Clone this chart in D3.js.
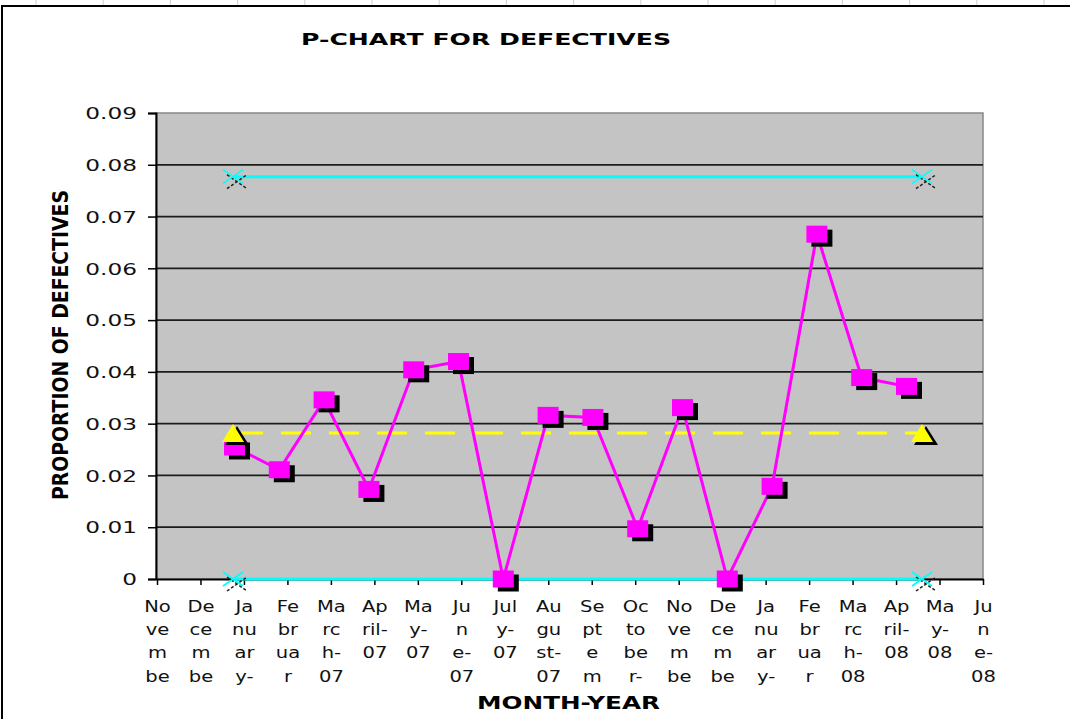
<!DOCTYPE html>
<html>
<head>
<meta charset="utf-8">
<script src="https://cdn.jsdelivr.net/npm/d3@7"></script>
<style>
  body { margin: 0; background: #fff; }
  svg { display: block; }
</style>
</head>
<body>
<svg id="chart"></svg>
<script>
// categories on the axis
var categories = ["November-06","December-06","January-07","February-07","March-07","April-07",
  "May-07","June-07","July-07","August-07","September-07","October-07","November-07",
  "December-07","January-08","February-08","March-08","April-08","May-08","June-08"];

// axis labels as they are wrapped in the picture
var tickLines = [
  ["No","ve","m","be"], ["De","ce","m","be"], ["Ja","nu","ar","y-"], ["Fe","br","ua","r"],
  ["Ma","rc","h-","07"], ["Ap","ril-","07"], ["Ma","y-","07"], ["Ju","n","e-","07"],
  ["Jul","y-","07"], ["Au","gu","st-","07"], ["Se","pt","e","m"], ["Oc","to","be","r-"],
  ["No","ve","m","be"], ["De","ce","m","be"], ["Ja","nu","ar","y-"], ["Fe","br","ua","r"],
  ["Ma","rc","h-","08"], ["Ap","ril-","08"], ["Ma","y-","08"], ["Ju","n","e-","08"]
];

// proportion defective per month
var months = ["January-07","February-07","March-07","April-07","May-07","June-07","July-07",
  "August-07","September-07","October-07","November-07","December-07","January-08",
  "February-08","March-08","April-08"];
var pValues = [0.0255,0.0211,0.0346,0.0173,0.0404,0.0420,0,0.0316,0.0312,0.0097,0.0331,0,
  0.0179,0.0666,0.0389,0.0372];

// control limits (two end points each)
var limitMonths = ["January-07","May-08"];
var ucl = [0.0777,0.0777];
var cl = [0.0282,0.0282];
var lcl = [0,0];

var yTicks = [0,0.01,0.02,0.03,0.04,0.05,0.06,0.07,0.08,0.09];

var W = 1070, H = 719;
var plotLeft = 156, plotRight = 983, plotTop = 113, plotBottom = 579;

var svg = d3.select("#chart").attr("width", W).attr("height", H);
svg.append("rect").attr("width", W).attr("height", H).attr("fill", "#fff");

// worksheet column marks above the chart
svg.append("g").selectAll("line")
  .data(d3.range(36, W, 67.2))
  .enter().append("line")
  .attr("x1", d => d).attr("x2", d => d).attr("y1", 0).attr("y2", 5)
  .attr("stroke", "#d0d0d0").attr("stroke-width", 1);

// chart area frame
svg.append("path")
  .attr("d", `M2,${H} L2,6 L${W},6`)
  .attr("fill", "none").attr("stroke", "#000").attr("stroke-width", 2);

var x = d3.scalePoint().domain(categories).range([plotLeft + 1, plotRight]);
var xp = d3.scalePoint().domain(months).range([234.5, 906.5]);
var xl = d3.scalePoint().domain(limitMonths).range([233, 922]);
var y = d3.scaleLinear().domain([0, 0.09]).range([plotBottom, plotTop]);

function stretch(sel, k) {
  sel.each(function() {
    var w = this.getComputedTextLength();
    d3.select(this).attr("textLength", w * k).attr("lengthAdjust", "spacingAndGlyphs");
  });
}

// plot area
svg.append("rect")
  .attr("x", plotLeft).attr("y", plotTop)
  .attr("width", plotRight - plotLeft).attr("height", plotBottom - plotTop)
  .attr("fill", "#c4c4c4").attr("stroke", "#888").attr("stroke-width", 1.5);

svg.append("g").selectAll("line")
  .data(yTicks.filter(d => d > 0 && d < 0.09))
  .enter().append("line")
  .attr("x1", plotLeft).attr("x2", plotRight)
  .attr("y1", d => y(d)).attr("y2", d => y(d))
  .attr("stroke", "#1c1c1c").attr("stroke-width", 1.8);

// axes
var yAxis = svg.append("g")
  .attr("transform", `translate(${plotLeft},0)`)
  .call(d3.axisLeft(y).tickValues(yTicks).tickSize(8).tickPadding(11)
    .tickFormat(d => d === 0 ? "0" : d3.format(".2f")(d)));
yAxis.select(".domain").attr("stroke", "#000").attr("stroke-width", 2);
yAxis.selectAll(".tick line").attr("stroke", "#000").attr("stroke-width", 1.5);
yAxis.selectAll(".tick text")
  .attr("font-family", "'DejaVu Sans', Verdana, sans-serif")
  .attr("font-size", 16).attr("fill", "#111").attr("dy", "0.36em");
stretch(yAxis.selectAll(".tick text"), 1.45);

var xAxis = svg.append("g")
  .attr("transform", `translate(0,${plotBottom})`)
  .call(d3.axisBottom(x).tickSize(6).tickSizeOuter(0).tickFormat(""));
xAxis.select(".domain").attr("stroke", "#000").attr("stroke-width", 2);
xAxis.selectAll(".tick line").attr("stroke", "#000").attr("stroke-width", 1.5);
xAxis.selectAll(".tick").each(function(d, i) {
  var t = d3.select(this).selectAll("text.lbl")
    .data(tickLines[i])
    .enter().append("text")
    .attr("class", "lbl")
    .attr("text-anchor", "middle")
    .attr("y", (s, j) => 33 + j * 23.2)
    .attr("font-family", "'DejaVu Sans', Verdana, sans-serif")
    .attr("font-size", 16).attr("fill", "#111")
    .text(s => s);
  stretch(t, 1.22);
});

// titles
svg.append("text")
  .attr("x", 486).attr("y", 45)
  .attr("text-anchor", "middle")
  .attr("font-family", "'DejaVu Sans', Verdana, sans-serif")
  .attr("font-weight", "bold").attr("font-size", 16)
  .attr("textLength", 370).attr("lengthAdjust", "spacingAndGlyphs")
  .text("P-CHART FOR DEFECTIVES");

svg.append("text")
  .attr("transform", "translate(68,345) rotate(-90)")
  .attr("text-anchor", "middle")
  .attr("font-family", "'DejaVu Sans Condensed', 'Liberation Sans Narrow', 'DejaVu Sans', sans-serif")
  .attr("font-weight", "bold").attr("font-size", 21)
  .attr("textLength", 310).attr("lengthAdjust", "spacingAndGlyphs")
  .text("PROPORTION OF DEFECTIVES");

svg.append("text")
  .attr("x", 568.5).attr("y", 709)
  .attr("text-anchor", "middle")
  .attr("font-family", "'DejaVu Sans', Verdana, sans-serif")
  .attr("font-weight", "bold").attr("font-size", 17)
  .attr("textLength", 183).attr("lengthAdjust", "spacingAndGlyphs")
  .text("MONTH-YEAR");

// control lines
function limitLine(vals, color, dash) {
  svg.append("path")
    .datum(vals)
    .attr("fill", "none").attr("stroke", color).attr("stroke-width", 3)
    .attr("stroke-dasharray", dash)
    .attr("d", d3.line().x((d, i) => xl(limitMonths[i])).y(d => y(d)));
}
limitLine(ucl, "#00ffff", null);
limitLine(lcl, "#00ffff", null);
limitLine(cl, "#ffff00", "30,18");

// p series line
svg.append("path")
  .datum(pValues)
  .attr("fill", "none").attr("stroke", "#ff00ff").attr("stroke-width", 3)
  .attr("d", d3.line().x((d, i) => xp(months[i])).y(d => y(d)));

// square markers with shadow
var sq = svg.append("g").selectAll("g")
  .data(pValues).enter().append("g")
  .attr("transform", (d, i) => `translate(${xp(months[i])},${y(d)})`);
sq.append("rect").attr("x", -10.5 + 5).attr("y", -8.5 + 4)
  .attr("width", 21).attr("height", 17).attr("fill", "#000");
sq.append("rect").attr("x", -10.5).attr("y", -8.5)
  .attr("width", 21).attr("height", 17).attr("fill", "#ff00ff");

// triangle markers on centre line
var tri = svg.append("g").selectAll("g")
  .data(cl).enter().append("g")
  .attr("transform", (d, i) => `translate(${xl(limitMonths[i])},${y(d)})`);
tri.append("path").attr("d", "M4,-7 L16,12 L-8,12 Z").attr("fill", "#000");
tri.append("path").attr("d", "M0,-9 L11,9 L-11,9 Z").attr("fill", "#ffff00");

// x markers on the limits
var xm = svg.append("g").selectAll("g")
  .data(ucl.concat(lcl)).enter().append("g")
  .attr("transform", (d, i) => `translate(${xl(limitMonths[i % 2])},${y(d)})`);
xm.append("path").attr("d", "M-6,-2 L14,12 M-6,12 L14,-2")
  .attr("stroke", "#222").attr("stroke-width", 1.5).attr("stroke-dasharray", "3,2").attr("fill", "none");
xm.append("path").attr("d", "M-10,-7 L10,7 M-10,7 L10,-7")
  .attr("stroke", "#00ffff").attr("stroke-width", 1.6).attr("fill", "none");
</script>
</body>
</html>
